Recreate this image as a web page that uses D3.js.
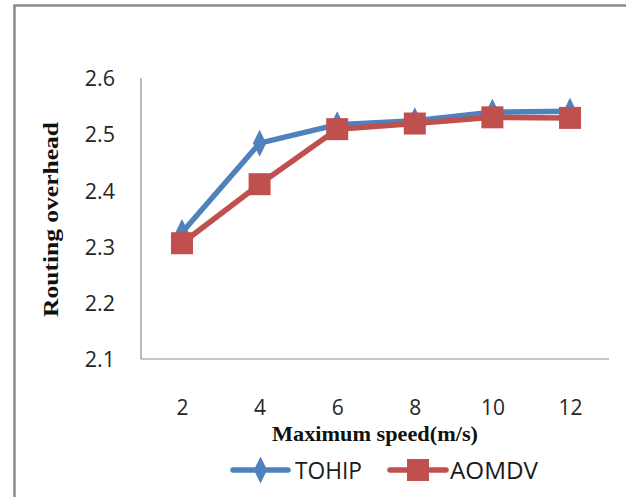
<!DOCTYPE html>
<html>
<head>
<meta charset="utf-8">
<script src="https://cdn.jsdelivr.net/npm/d3@7"></script>
<style>
  html, body { margin: 0; padding: 0; background: #fff; }
  svg { display: block; }
</style>
</head>
<body>
<svg id="chart" width="626" height="497"></svg>
<script>
// ---- data ----
const categories = ["2", "4", "6", "8", "10", "12"];
const tohip = [2.325, 2.484, 2.517, 2.524, 2.539, 2.541];
const aomdv = [2.306, 2.411, 2.509, 2.519, 2.530, 2.529];
const yTicks = [2.1, 2.2, 2.3, 2.4, 2.5, 2.6];
const seriesNames = ["TOHIP", "AOMDV"];
const xTitle = "Maximum speed(m/s)";
const yTitle = "Routing overhead";

// ---- layout ----
const W = 626, H = 497;
const plot = { left: 141, right: 609, top: 78, bottom: 359 };
const blue = "#4F81BD", red = "#C0504D";
const svg = d3.select("#chart");

// outer frame
svg.append("path")
  .attr("d", `M14.5,${H} L14.5,5.5 L${W},5.5`)
  .attr("fill", "none").attr("stroke", "#8a8a8a").attr("stroke-width", 2.5);

const x = d3.scalePoint().domain(categories).range([182, 570]);
const y = d3.scaleLinear().domain([2.1, 2.6]).range([plot.bottom, plot.top]);

// axes lines
svg.append("line").attr("x1", plot.left).attr("x2", plot.left)
  .attr("y1", plot.top).attr("y2", plot.bottom)
  .attr("stroke", "#8c8c8c").attr("stroke-width", 1.2);
svg.append("line").attr("x1", plot.left).attr("x2", plot.right)
  .attr("y1", plot.bottom).attr("y2", plot.bottom)
  .attr("stroke", "#8c8c8c").attr("stroke-width", 1.2);

// y axis labels
const yAxis = d3.axisLeft(y).tickValues(yTicks).tickSize(0).tickPadding(26)
  .tickFormat(d3.format(".1f"));
const gy = svg.append("g").attr("transform", `translate(${plot.left},0)`).call(yAxis);
gy.select(".domain").remove();
gy.selectAll("text")
  .attr("font-family", "'Open Sans', sans-serif").attr("font-size", 21.5)
  .attr("fill", "#262626").attr("dy", "0.36em");

// x axis labels
const xAxis = d3.axisBottom(x).tickSize(0).tickPadding(0);
const gx = svg.append("g").attr("transform", `translate(0,${plot.bottom})`).call(xAxis);
gx.select(".domain").remove();
gx.selectAll("text")
  .attr("font-family", "'Open Sans', sans-serif").attr("font-size", 21)
  .attr("fill", "#262626").attr("dy", null).attr("y", 56);

// axis titles
svg.append("text")
  .attr("x", 375).attr("y", 441)
  .attr("text-anchor", "middle")
  .attr("font-family", "'Liberation Serif', 'Times New Roman', serif")
  .attr("font-weight", "bold").attr("font-size", 21)
  .attr("textLength", 206).attr("lengthAdjust", "spacingAndGlyphs")
  .attr("fill", "#111")
  .text(xTitle);

svg.append("text")
  .attr("transform", "translate(58,219.5) rotate(-90)")
  .attr("text-anchor", "middle")
  .attr("font-family", "'Liberation Serif', 'Times New Roman', serif")
  .attr("font-weight", "bold").attr("font-size", 22)
  .attr("textLength", 195).attr("lengthAdjust", "spacingAndGlyphs")
  .attr("fill", "#111")
  .text(yTitle);

// series
const line = d3.line().x((d, i) => x(categories[i])).y(d => y(d));
const diamond = d3.symbol().type(d3.symbolDiamond).size(190);

function drawSeries(values, color, marker) {
  const g = svg.append("g");
  g.append("path").datum(values)
    .attr("d", line).attr("fill", "none")
    .attr("stroke", color).attr("stroke-width", 5.5)
    .attr("stroke-linejoin", "round");
  if (marker === "diamond") {
    g.selectAll("path.m").data(values).join("path").attr("class", "m")
      .attr("d", diamond)
      .attr("transform", (d, i) => `translate(${x(categories[i])},${y(d)}) scale(0.9,1.05)`)
      .attr("fill", color);
  } else {
    const s = 22;
    g.selectAll("rect.m").data(values).join("rect").attr("class", "m")
      .attr("x", (d, i) => x(categories[i]) - s / 2)
      .attr("y", d => y(d) - s / 2)
      .attr("width", s).attr("height", s)
      .attr("fill", color);
  }
}
drawSeries(tohip, blue, "diamond");
drawSeries(aomdv, red, "square");

// legend
const legend = [
  { name: seriesNames[0], color: blue, marker: "diamond", x0: 233, x1: 288, tx: 295, tl: 67 },
  { name: seriesNames[1], color: red, marker: "square", x0: 390, x1: 446, tx: 450, tl: 88 }
];
const ly = 470;
legend.forEach(l => {
  const g = svg.append("g");
  g.append("line").attr("x1", l.x0).attr("x2", l.x1).attr("y1", ly).attr("y2", ly)
    .attr("stroke", l.color).attr("stroke-width", 5.5).attr("stroke-linecap", "round");
  const cx = (l.x0 + l.x1) / 2;
  if (l.marker === "diamond") {
    g.append("path").attr("d", diamond)
      .attr("transform", `translate(${cx},${ly}) scale(0.9,1.05)`)
      .attr("fill", l.color);
  } else {
    g.append("rect").attr("x", cx - 11).attr("y", ly - 11)
      .attr("width", 22).attr("height", 22).attr("fill", l.color);
  }
  g.append("text").attr("x", l.tx).attr("y", ly + 9)
    .attr("font-family", "'Open Sans', sans-serif").attr("font-size", 24)
    .attr("textLength", l.tl).attr("lengthAdjust", "spacingAndGlyphs")
    .attr("fill", "#1a1a1a").text(l.name);
});
</script>
</body>
</html>
